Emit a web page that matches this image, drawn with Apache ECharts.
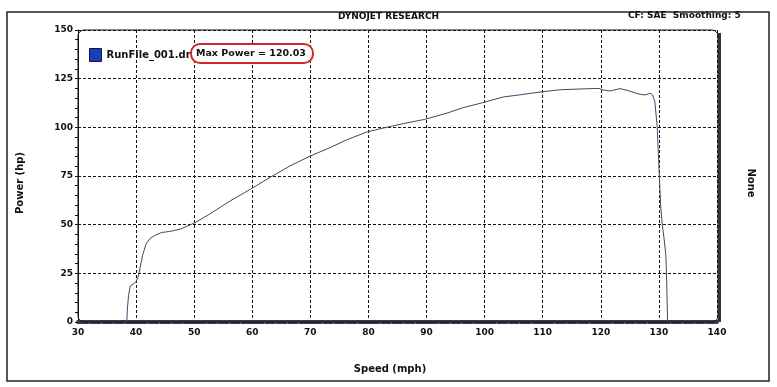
<!DOCTYPE html>
<html><head><meta charset="utf-8">
<script src="https://cdn.jsdelivr.net/npm/echarts@6/dist/echarts.min.js"></script>
<style>html,body{margin:0;padding:0;background:#fff}#c{width:777px;height:387px}</style>
</head><body><div id="c"></div>
<script>
// Data
const speed = [38.4,38.5,38.7,39.0,39.5,40.0,40.4,40.7,41.1,41.7,42.4,43.3,44.4,45.8,47.6,50.0,52.7,56.2,59.9,63.3,66.5,69.8,73.4,76.2,79.7,82.5,86.0,89.7,93.5,96.3,99.7,103.2,106.1,109.7,113.0,116.4,119.7,120.4,121.6,123.3,124.7,126.4,127.6,128.5,128.9,129.3,129.7,129.85,130.0,130.3,130.6,130.9,131.2,131.3,131.5];
const power = [0,6.7,13.5,18.6,19.5,20.7,23.7,28.0,34.0,40.0,42.9,44.6,46.0,46.5,47.7,50.8,55.5,62.2,68.6,74.7,80.2,85.0,89.6,93.5,97.6,99.6,101.9,104.1,107.3,110.1,112.7,115.6,116.7,118.2,119.3,119.7,120.0,119.2,118.7,119.9,118.9,117.2,116.6,117.5,116.7,113.3,100.5,90,80,59.6,49.4,42.6,34,25.5,0];
const xTicks = [30,40,50,60,70,80,90,100,110,120,130,140];
const yTicks = [0,25,50,75,100,125,150];
const seriesName = 'RunFile_001.drf';
const maxPowerText = 'Max Power = 120.03';

const FONT = 'DejaVu Sans';
const chart = echarts.init(document.getElementById('c'), null, {renderer:'canvas'});
const lbl = {fontFamily: FONT, fontWeight: 'bold', fontSize: 9, color: '#111'};

chart.setOption({
  animation: false,
  backgroundColor: '#fff',
  title: {
    text: 'DYNOJET RESEARCH', left: 'center', top: 12, padding: 0,
    textStyle: {fontFamily: FONT, fontWeight: 'bold', fontSize: 9, color: '#111'}
  },
  legend: {
    left: 89, top: 48, padding: 0, itemWidth: 12, itemHeight: 13, itemGap: 5,
    data: [{name: seriesName, icon: 'rect', itemStyle: {color: '#1d3db5', borderColor: '#0a1a50', borderWidth: 1}}],
    textStyle: {fontFamily: FONT, fontWeight: 'bold', fontSize: 10, color: '#111'}
  },
  grid: {left: 78, right: 60, top: 30, bottom: 65},
  xAxis: {
    type: 'value', min: xTicks[0], max: xTicks[xTicks.length-1], interval: 10,
    axisLine: {show: true, lineStyle: {color: '#3c3c4c', width: 4}},
    axisTick: {show: false},
    minorTick: {show: true, splitNumber: 5, length: 2, lineStyle: {color: '#888'}},
    axisLabel: Object.assign({margin: 6}, lbl),
    splitLine: {show: true, lineStyle: {color: '#111', type: [3,2], width: 1}}
  },
  yAxis: {
    type: 'value', min: yTicks[0], max: yTicks[yTicks.length-1], interval: 25,
    axisLine: {show: true, lineStyle: {color: '#111', width: 1}},
    axisTick: {show: true, length: 3, lineStyle: {color: '#111'}},
    minorTick: {show: true, splitNumber: 5, length: 3, lineStyle: {color: '#111'}},
    axisLabel: Object.assign({margin: 5}, lbl),
    splitLine: {show: true, lineStyle: {color: '#111', type: [3,2], width: 1}}
  },
  series: [{
    name: seriesName, type: 'line', showSymbol: false, smooth: false,
    data: speed.map((s, i) => [s, power[i]]),
    lineStyle: {color: '#3e4866', width: 1},
    itemStyle: {color: '#1d3db5'}
  }],
  graphic: [
    {type: 'rect', z: 0, shape: {x: 7, y: 12, width: 762, height: 369}, style: {fill: 'none', stroke: '#222', lineWidth: 1.5}},
    {type: 'rect', z: 1, shape: {x: 78, y: 30, width: 640, height: 292, r: 6}, style: {fill: 'none', stroke: '#111', lineWidth: 1}},
    {type: 'line', z: 50, shape: {x1: 719.5, y1: 33, x2: 719.5, y2: 322}, style: {stroke: '#333', lineWidth: 3}},
    {type: 'text', z: 50, x: 628, y: 11, style: {text: 'CF: SAE  Smoothing: 5', fontFamily: FONT, fontWeight: 'bold', fontSize: 9, fill: '#111'}},
    {type: 'text', z: 50, x: 20, y: 183, rotation: Math.PI/2, style: {text: 'Power (hp)', fontFamily: FONT, fontWeight: 'bold', fontSize: 10, fill: '#111', align: 'center', verticalAlign: 'middle'}},
    {type: 'text', z: 50, x: 751, y: 183, rotation: -Math.PI/2, style: {text: 'None', fontFamily: FONT, fontWeight: 'bold', fontSize: 10, fill: '#111', align: 'center', verticalAlign: 'middle'}},
    {type: 'text', z: 50, x: 390, y: 369, style: {text: 'Speed (mph)', fontFamily: FONT, fontWeight: 'bold', fontSize: 10, fill: '#111', align: 'center', verticalAlign: 'middle'}},
    {type: 'rect', z: 100, shape: {x: 191, y: 44, width: 122, height: 19, r: 9}, style: {fill: '#fff', stroke: '#d02828', lineWidth: 2}},
    {type: 'text', z: 101, x: 196, y: 54, style: {text: maxPowerText, fontFamily: FONT, fontWeight: 'bold', fontSize: 9.5, fill: '#111', verticalAlign: 'middle'}}
  ]
});
</script></body></html>
